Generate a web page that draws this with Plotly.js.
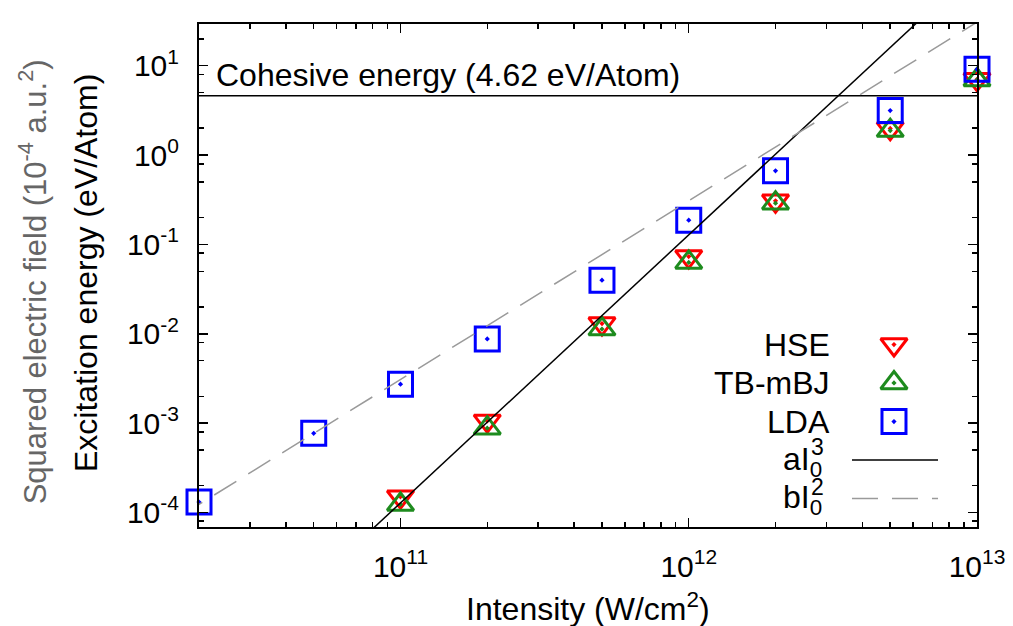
<!DOCTYPE html>
<html><head><meta charset="utf-8">
<script src="https://cdn.plot.ly/plotly-3.0.1.min.js"></script>
<style>html,body{margin:0;padding:0;background:#fff}#chart{width:1013px;height:626px}</style>
</head><body><div id="chart"></div>
<script>
// ---- data ----
const ldaIntensity = [2e10, 5e10, 1e11, 2e11, 5e11, 1e12, 2e12, 5e12, 1e13];
const ldaEnergy    = [1.31e-4, 7.7e-4, 2.73e-3, 8.77e-3, 0.0398, 0.187, 0.667, 3.15, 9.12];
const hybIntensity = [1e11, 2e11, 5e11, 1e12, 2e12, 5e12, 1e13];
const hseEnergy    = [1.50e-4, 1.06e-3, 0.0130, 0.0732, 0.308, 1.99, 7.05];
const tbmbjEnergy  = [1.23e-4, 8.8e-4, 0.0113, 0.063, 0.29, 1.88, 6.93];
const cubicFitI    = [5e10, 2e13];
const cubicFitE    = [1.6e-5, 1024];
const quadFitI     = [1e10, 2e13];
const quadFitE     = [3.08e-5, 123];
const cohesiveI    = [1.9e10, 1e13];
const cohesiveE    = [4.62, 4.62];
const seriesNames  = ['HSE', 'TB-mBJ', 'LDA'];
const xTickVals    = [1e11, 1e12, 1e13];
const xTickText    = ['10<sup>11</sup>', '10<sup>12</sup>', '10<sup>13</sup>'];
const yTickVals    = [1e-4, 1e-3, 1e-2, 1e-1, 1, 10];
const yTickText    = ['10<sup>-4</sup>', '10<sup>-3</sup>', '10<sup>-2</sup>', '10<sup>-1</sup>', '10<sup>0</sup>', '10<sup>1</sup>'];

// ---- style ----
const FONT = 'Liberation Sans, Arial, Helvetica, sans-serif';
const C_HSE = '#ff0000', C_TB = '#1e8b1e', C_LDA = '#0000ff', C_FIT2 = '#9a9a9a';
const DASH = '26px,14px';
const TXT = 32;

function minorVals(e0, e1, digits) {
  const v = [];
  for (let e = e0; e <= e1; e++) for (const d of digits) v.push(d * Math.pow(10, e));
  return v;
}

const mk = (sym, size, color) => ({symbol: sym, size: size, color: color, line: {width: 3, color: color}});

const traces = [
  {x: hybIntensity, y: hseEnergy, mode: 'markers', name: seriesNames[0], cliponaxis: false,
   marker: mk('triangle-down-open-dot', 23, C_HSE)},
  {x: hybIntensity, y: tbmbjEnergy, mode: 'markers', name: seriesNames[1], cliponaxis: false,
   marker: mk('triangle-up-open-dot', 23, C_TB)},
  {x: ldaIntensity, y: ldaEnergy, mode: 'markers', name: seriesNames[2], cliponaxis: false,
   marker: mk('square-open-dot', 24, C_LDA)},
  {x: cohesiveI, y: cohesiveE, mode: 'lines', line: {color: '#000', width: 1.5}},
  {x: cubicFitI, y: cubicFitE, mode: 'lines', line: {color: '#000', width: 1.5}},
  {x: quadFitI, y: quadFitE, mode: 'lines', line: {color: C_FIT2, width: 1.5, dash: DASH}}
];

// legend (gnuplot style: text right, sample left) on an overlay [0,1] frame
const L = {textX: 0.8136, symX: 0.8933, lineX0: 0.8393, lineX1: 0.9499,
           rows: [0.3628, 0.2863, 0.2097, 0.1332, 0.0567]};
traces.push(
  {x: [L.symX], y: [L.rows[0]], xaxis: 'x2', yaxis: 'y2', mode: 'markers', cliponaxis: false, marker: mk('triangle-down-open-dot', 23, C_HSE)},
  {x: [L.symX], y: [L.rows[1]], xaxis: 'x2', yaxis: 'y2', mode: 'markers', cliponaxis: false, marker: mk('triangle-up-open-dot', 23, C_TB)},
  {x: [L.symX], y: [L.rows[2]], xaxis: 'x2', yaxis: 'y2', mode: 'markers', cliponaxis: false, marker: mk('square-open-dot', 24, C_LDA)},
  {x: [L.lineX0, L.lineX1], y: [L.rows[3], L.rows[3]], xaxis: 'x2', yaxis: 'y2', mode: 'lines', line: {color: '#000', width: 1.5}},
  {x: [L.lineX0, L.lineX1], y: [L.rows[4], L.rows[4]], xaxis: 'x2', yaxis: 'y2', mode: 'lines', line: {color: C_FIT2, width: 1.5, dash: DASH}}
);

const axisCommon = {
  type: 'log', showgrid: false, zeroline: false,
  showline: true, linecolor: '#000', linewidth: 2, mirror: 'ticks',
  ticks: 'inside', ticklen: 9, tickwidth: 1.5, tickcolor: '#000',
  tickmode: 'array', tickfont: {family: FONT, size: 30, color: '#000'},
  ticklabelstandoff: 12
};

const annFont = (size, color) => ({family: FONT, size: size, color: color || '#000'});
const annotations = [
  {text: 'Cohesive energy (4.62 eV/Atom)', xref: 'paper', yref: 'paper', x: 0.019, y: 0.8996,
   xanchor: 'left', yanchor: 'middle', showarrow: false, font: annFont(TXT)},
  {text: 'Intensity (W/cm<sup>2</sup>)', xref: 'paper', yref: 'paper', x: 0.5, y: -0.159,
   xanchor: 'center', yanchor: 'middle', showarrow: false, font: annFont(TXT)},
  {text: 'Excitation energy (eV/Atom)', xref: 'paper', yref: 'paper', x: -0.1452, y: 0.505, textangle: -90,
   xanchor: 'center', yanchor: 'middle', showarrow: false, font: annFont(TXT)},
  {text: 'Squared electric field (10<sup>-4</sup> a.u.<sup>2</sup>)', xref: 'paper', yref: 'paper', x: -0.213, y: 0.487, textangle: -90,
   xanchor: 'center', yanchor: 'middle', showarrow: false, font: annFont(31, '#666666')},
  {text: seriesNames[0], xref: 'paper', yref: 'paper', x: L.textX, y: L.rows[0], xanchor: 'right', yanchor: 'middle', showarrow: false, font: annFont(TXT)},
  {text: seriesNames[1], xref: 'paper', yref: 'paper', x: L.textX, y: L.rows[1], xanchor: 'right', yanchor: 'middle', showarrow: false, font: annFont(TXT)},
  {text: seriesNames[2], xref: 'paper', yref: 'paper', x: L.textX, y: L.rows[2], xanchor: 'right', yanchor: 'middle', showarrow: false, font: annFont(TXT)},
  {text: 'aI<sub>0</sub>', xref: 'paper', yref: 'paper', x: 0.8033, y: 0.1302, xanchor: 'right', yanchor: 'middle', showarrow: false, font: annFont(TXT)},
  {text: '3', xref: 'paper', yref: 'paper', x: 0.8059, y: 0.160, xanchor: 'right', yanchor: 'middle', showarrow: false, font: annFont(23)},
  {text: 'bI<sub>0</sub>', xref: 'paper', yref: 'paper', x: 0.8033, y: 0.0547, xanchor: 'right', yanchor: 'middle', showarrow: false, font: annFont(TXT)},
  {text: '2', xref: 'paper', yref: 'paper', x: 0.8059, y: 0.0795, xanchor: 'right', yanchor: 'middle', showarrow: false, font: annFont(23)}
];

const layout = {
  width: 1013, height: 626,
  margin: {l: 199, r: 36, t: 24, b: 99, pad: 0},
  paper_bgcolor: '#fff', plot_bgcolor: '#fff',
  font: {family: FONT, color: '#000'},
  showlegend: false,
  xaxis: Object.assign({}, axisCommon, {
    range: [10.3010, 13.00001], tickvals: xTickVals, ticktext: xTickText,
    minor: {tickmode: 'array', tickvals: minorVals(10, 12, [2,3,4,5,6,7,8,9]), ticks: 'inside', ticklen: 5, tickwidth: 1.5, tickcolor: '#000'}
  }),
  yaxis: Object.assign({}, axisCommon, {
    range: [-4.162, 1.467], tickvals: yTickVals, ticktext: yTickText,
    minor: {tickmode: 'array', tickvals: minorVals(-5, 1, [2,5,8]), ticks: 'inside', ticklen: 5, tickwidth: 1.5, tickcolor: '#000'}
  }),
  xaxis2: {overlaying: 'x', range: [0, 1], visible: false, anchor: 'y2'},
  yaxis2: {overlaying: 'y', range: [0, 1], visible: false, anchor: 'x2'},
  annotations: annotations
};

Plotly.newPlot('chart', traces, layout, {displayModeBar: false, staticPlot: true});
</script>
</body></html>
